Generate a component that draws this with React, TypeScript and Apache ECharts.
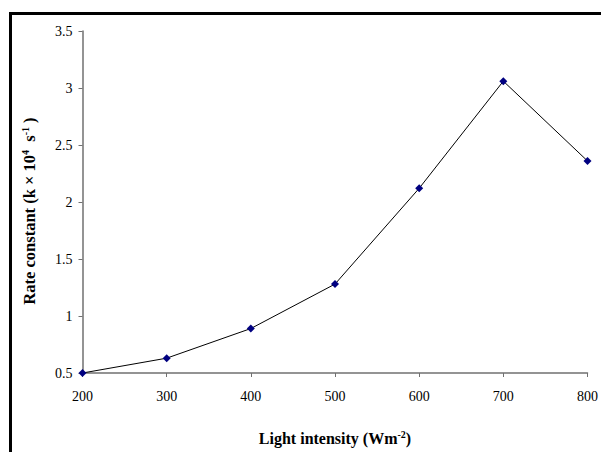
import React, { useEffect, useRef } from "react";
import * as echarts from "echarts";

const intensities = [200, 300, 400, 500, 600, 700, 800];
const rateConstants = [0.5, 0.63, 0.89, 1.28, 2.12, 3.06, 2.36];

export default function App() {
  const ref = useRef<HTMLDivElement>(null);
  useEffect(() => {
    if (!ref.current) return;
    document.documentElement.style.overflow = "hidden";
    document.body.style.overflow = "hidden";
    document.body.style.margin = "0";
    const chart = echarts.init(ref.current, null, { renderer: "svg" });
    const font = "Liberation Serif";
    chart.setOption({
      animation: false,
      backgroundColor: "#ffffff",
      textStyle: { fontFamily: font },
      graphic: [
        {
          type: "line",
          shape: { x1: 10.5, y1: 12, x2: 10.5, y2: 452 },
          style: { stroke: "#000", lineWidth: 3 },
          silent: true,
        },
        {
          type: "line",
          shape: { x1: 9, y1: 13.5, x2: 601, y2: 13.5 },
          style: { stroke: "#000", lineWidth: 3 },
          silent: true,
        },
      ],
      grid: { left: 82.5, right: 9, top: 31, bottom: 79 },
      xAxis: {
        type: "value",
        min: 200,
        max: 800,
        interval: 100,
        splitLine: { show: false },
        axisLine: { lineStyle: { color: "#707070", width: 1.5 } },
        axisTick: { length: 4, lineStyle: { color: "#707070" } },
        axisLabel: { color: "#000", fontFamily: font, fontSize: 14, margin: 16 },
        name: "{b|Light intensity (Wm}{sup|-2}{b|)}",
        nameLocation: "middle",
        nameGap: 56,
        nameTextStyle: {
          rich: {
            b: { fontFamily: font, fontWeight: "bold", fontSize: 16, color: "#000" },
            sup: { fontFamily: font, fontWeight: "bold", fontSize: 10, color: "#000", verticalAlign: "top", padding: [0, 0, 8, 0] },
          },
        },
      },
      yAxis: {
        type: "value",
        min: 0.5,
        max: 3.5,
        interval: 0.5,
        splitLine: { show: false },
        axisLine: { show: true, lineStyle: { color: "#707070", width: 1.5 } },
        axisTick: { show: true, length: 4, lineStyle: { color: "#707070" } },
        axisLabel: { color: "#000", fontFamily: font, fontSize: 14, margin: 10 },
        name: "{b|Rate constant (k × 10}{sup|4}{b|  s}{sup|-1}{e| )}",
        nameLocation: "middle",
        nameGap: 44,
        nameTextStyle: {
          rich: {
            b: { fontFamily: font, fontWeight: "bold", fontSize: 16.5, color: "#000" },
            e: { fontFamily: font, fontWeight: "bold", fontSize: 16.5, color: "#000", padding: [0, 18, 0, 0] },
            sup: { fontFamily: font, fontWeight: "bold", fontSize: 10, color: "#000", verticalAlign: "top", padding: [0, 0, 8, 0] },
          },
        },
      },
      series: [
        {
          type: "line",
          data: intensities.map((x, i) => [x, rateConstants[i]]),
          symbol: "diamond",
          symbolSize: 8,
          lineStyle: { color: "#000", width: 1 },
          itemStyle: { color: "#000080" },
          clip: false,
        },
      ],
    });
    return () => chart.dispose();
  }, []);
  return <div ref={ref} style={{ width: 601, height: 452, position: "fixed", left: 0, top: 0 }} />;
}
